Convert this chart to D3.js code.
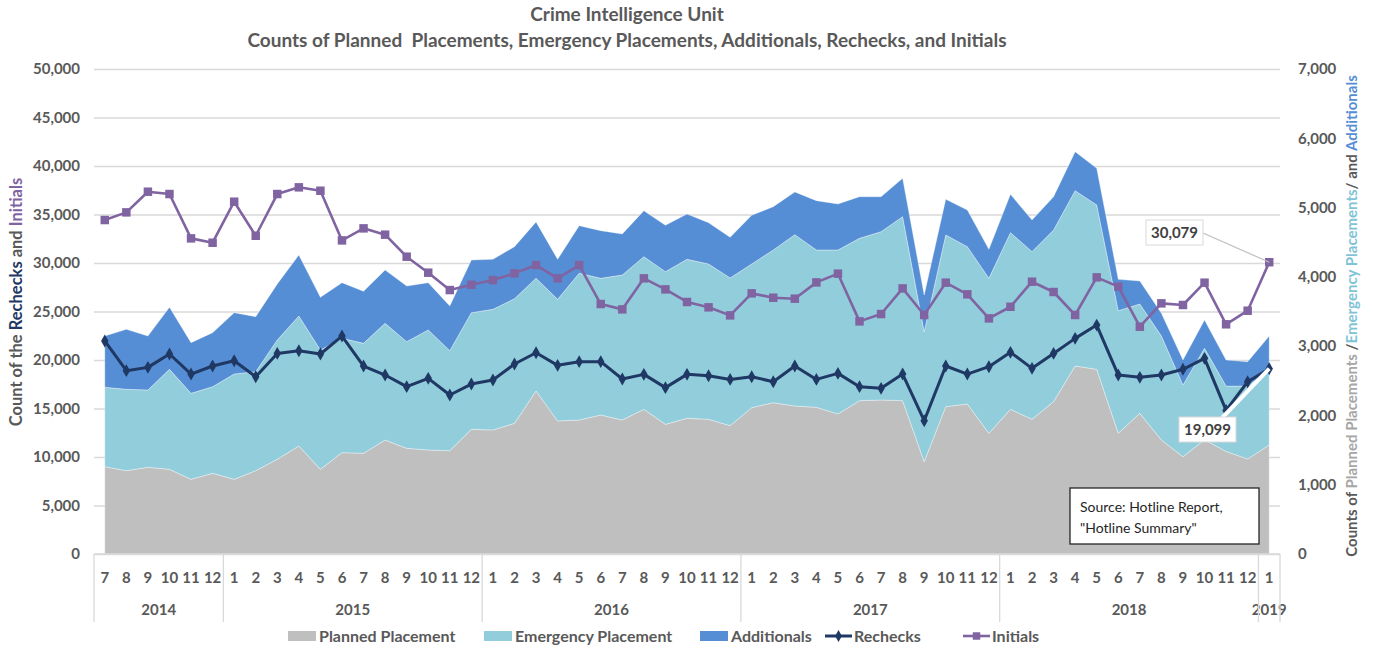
<!DOCTYPE html>
<html>
<head>
<meta charset="utf-8">
<script src="https://cdn.jsdelivr.net/npm/d3@7"></script>
<style>
body { margin: 0; background: #fff; }
text { font-family: Lato, "Open Sans", sans-serif; }
</style>
</head>
<body>
<div id="vis"></div>
<script>

// month labels (Jul 2014 - Jan 2019) and the year groups under them
var months = [7, 8, 9, 10, 11, 12,
  1, 2, 3, 4, 5, 6, 7, 8, 9, 10, 11, 12,
  1, 2, 3, 4, 5, 6, 7, 8, 9, 10, 11, 12,
  1, 2, 3, 4, 5, 6, 7, 8, 9, 10, 11, 12,
  1, 2, 3, 4, 5, 6, 7, 8, 9, 10, 11, 12,
  1];
var yearNames = ["2014", "2015", "2016", "2017", "2018", "2019"];
var yearCounts = [6, 12, 12, 12, 12, 1];

// stacked areas (right axis)
var planned = [1260, 1203, 1251, 1222, 1078, 1164, 1078, 1203, 1366, 1559,
  1222, 1463, 1453, 1645, 1525, 1501, 1491, 1799, 1790, 1886,
  2353, 1920, 1934, 2006, 1934, 2088, 1871, 1958, 1944, 1852,
  2112, 2184, 2136, 2117, 2021, 2213, 2223, 2213, 1333, 2127,
  2165, 1742, 2088, 1944, 2199, 2713, 2665, 1742, 2030, 1645,
  1404, 1650, 1480, 1371, 1573];
var emergency = [1146, 1174, 1116, 1443, 1241, 1251, 1520, 1429, 1723, 1876,
  1722, 1650, 1588, 1684, 1540, 1732, 1444, 1684, 1741, 1799,
  1626, 1756, 2117, 1973, 2093, 2203, 2204, 2295, 2242, 2132,
  2074, 2204, 2473, 2271, 2367, 2343, 2429, 2656, 1876, 2477,
  2271, 2237, 2550, 2420, 2477, 2531, 2372, 1770, 1578, 1501,
  1036, 1318, 944, 1053, 1082];
var additionals = [740, 866, 779, 895, 731, 780, 885, 793, 808, 880,
  760, 803, 750, 770, 803, 683, 644, 760, 722, 751,
  813, 577, 688, 688, 592, 664, 669, 654, 596, 586,
  702, 625, 616, 712, 664, 601, 505, 553, 529, 515,
  529, 418, 553, 457, 481, 563, 529, 452, 332, 328,
  360, 409, 376, 351, 491];

// lines (left axis)
var rechecks = [21960, 18900, 19240, 20620, 18550, 19380, 19930, 18280, 20680, 20960,
  20620, 22470, 19380, 18450, 17250, 18110, 16390, 17520, 17940, 19590,
  20750, 19450, 19830, 19830, 18040, 18520, 17150, 18520, 18380, 18000,
  18280, 17760, 19380, 18000, 18620, 17250, 17080, 18550, 13740, 19380,
  18550, 19310, 20790, 19140, 20680, 22230, 23600, 18450, 18210, 18450,
  19040, 20170, 14800, 17760, 19099];
var initials = [34430, 35220, 37350, 37110, 32540, 32090, 36320, 32810, 37110, 37800,
  37450, 32330, 33570, 32920, 30650, 29000, 27210, 27760, 28240, 28930,
  29790, 28420, 29790, 25770, 25220, 28420, 27280, 25980, 25430, 24600,
  26870, 26420, 26320, 28000, 28900, 23980, 24740, 27380, 24640, 27970,
  26770, 24290, 25490, 28070, 27010, 24640, 28520, 27560, 23430, 25840,
  25670, 27970, 23680, 25080, 30079];

var leftTicks = [0, 5000, 10000, 15000, 20000, 25000, 30000, 35000, 40000, 45000, 50000];
var rightTicks = [0, 1000, 2000, 3000, 4000, 5000, 6000, 7000];

var cPlanned = "#BFBFBF", cEmerg = "#92CDDC", cAdd = "#558ED5",
    cRecheck = "#1F3864", cInit = "#8064A2", cText = "#595959";

// set the dimensions and margins of the graph
var margin = {top: 69, right: 93, bottom: 94, left: 94},
    width = 1373 - margin.left - margin.right,
    height = 648 - margin.top - margin.bottom;

var n = months.length;

// set the ranges
var x = d3.scaleBand().domain(d3.range(n)).range([0, width]);
var y0 = d3.scaleLinear().domain([0, 50000]).range([height, 0]);
var y1 = d3.scaleLinear().domain([0, 7000]).range([height, 0]);
function cx(i) { return x(i) + x.bandwidth() / 2; }

var root = d3.select("#vis").append("svg")
    .attr("width", 1373)
    .attr("height", 648);
root.append("rect").attr("width", 1373).attr("height", 648).attr("fill", "#fff");

var svg = root.append("g")
    .attr("transform", "translate(" + margin.left + "," + margin.top + ")");

// gridlines
var grid = svg.append("g")
    .call(d3.axisLeft(y0).tickValues(leftTicks).tickSize(-width).tickFormat(""));
grid.select(".domain").remove();
grid.selectAll("line").attr("stroke", "#D9D9D9").attr("stroke-width", 1.3);

// stacked areas
var table = planned.map(function(d, i) {
  return {planned: d, emergency: emergency[i], additionals: additionals[i]};
});
var stack = d3.stack().keys(["planned", "emergency", "additionals"]);
var layers = stack(table);
var colors = [cPlanned, cEmerg, cAdd];

var area = d3.area()
    .x(function(d, i) { return cx(i); })
    .y0(function(d) { return y1(d[0]); })
    .y1(function(d) { return y1(d[1]); });

svg.selectAll(".layer")
    .data(layers)
  .enter().append("path")
    .attr("class", "layer")
    .attr("fill", function(d, i) { return colors[i]; })
    .attr("stroke", "#fff")
    .attr("stroke-opacity", 0.35)
    .attr("stroke-width", 1)
    .attr("d", area);

// the two lines
var valueline = d3.line()
    .x(function(d, i) { return cx(i); })
    .y(function(d) { return y0(d); });

svg.append("path")
    .datum(rechecks)
    .attr("fill", "none")
    .attr("stroke", cRecheck)
    .attr("stroke-width", 3)
    .attr("stroke-linejoin", "round")
    .attr("d", valueline);

svg.selectAll(".rmark")
    .data(rechecks)
  .enter().append("path")
    .attr("class", "rmark")
    .attr("fill", cRecheck)
    .attr("transform", function(d, i) { return "translate(" + cx(i) + "," + y0(d) + ")"; })
    .attr("d", d3.symbol().type(d3.symbolDiamond).size(48));

svg.append("path")
    .datum(initials)
    .attr("fill", "none")
    .attr("stroke", cInit)
    .attr("stroke-width", 2.6)
    .attr("stroke-linejoin", "round")
    .attr("d", valueline);

svg.selectAll(".imark")
    .data(initials)
  .enter().append("path")
    .attr("class", "imark")
    .attr("fill", cInit)
    .attr("transform", function(d, i) { return "translate(" + cx(i) + "," + y0(d) + ")"; })
    .attr("d", d3.symbol().type(d3.symbolSquare).size(72));

// left axis
var yl = svg.append("g")
    .call(d3.axisLeft(y0).tickValues(leftTicks).tickSize(0).tickPadding(14).tickFormat(d3.format(",")));
yl.select(".domain").remove();
yl.selectAll("text").attr("fill", cText).style("font-size", "15px").style("font-weight", "bold")
    .style("font-family", "Lato, sans-serif");

// right axis
var yr = svg.append("g")
    .attr("transform", "translate(" + width + ",0)")
    .call(d3.axisRight(y1).tickValues(rightTicks).tickSize(0).tickPadding(18).tickFormat(d3.format(",")));
yr.select(".domain").remove();
yr.selectAll("text").attr("fill", cText).style("font-size", "15px").style("font-weight", "bold")
    .style("font-family", "Lato, sans-serif");

// category axis: months, years and separators
svg.append("line")
    .attr("x1", 0).attr("x2", width)
    .attr("y1", height).attr("y2", height)
    .attr("stroke", "#D9D9D9").attr("stroke-width", 1.3);

svg.selectAll(".month")
    .data(months)
  .enter().append("text")
    .attr("class", "month")
    .attr("x", function(d, i) { return cx(i); })
    .attr("y", height + 29)
    .attr("text-anchor", "middle")
    .attr("fill", cText)
    .style("font-size", "15px")
    .style("font-weight", "bold")
    .text(function(d) { return d; });

var start = 0, bounds = [0];
yearNames.forEach(function(yr, k) {
  var a = x(start), b = x(start + yearCounts[k] - 1) + x.bandwidth();
  svg.append("text")
      .attr("x", (a + b) / 2)
      .attr("y", height + 61)
      .attr("text-anchor", "middle")
      .attr("fill", cText)
      .style("font-size", "15px")
      .style("font-weight", "bold")
      .text(yr);
  start += yearCounts[k];
  bounds.push(b);
});

svg.selectAll(".sep")
    .data(bounds)
  .enter().append("line")
    .attr("class", "sep")
    .attr("x1", function(d) { return d; })
    .attr("x2", function(d) { return d; })
    .attr("y1", height)
    .attr("y2", height + 68)
    .attr("stroke", "#D9D9D9")
    .attr("stroke-width", 1.3);

// data labels for the last points
var last = n - 1;
svg.append("line")
    .attr("x1", 1203 - margin.left).attr("y1", 233 - margin.top)
    .attr("x2", cx(last)).attr("y2", y0(initials[last]))
    .attr("stroke", "#BFBFBF").attr("stroke-width", 1.2);
svg.append("line")
    .attr("x1", 1222 - margin.left).attr("y1", 418 - margin.top)
    .attr("x2", cx(last)).attr("y2", y0(rechecks[last]))
    .attr("stroke", "#fff").attr("stroke-width", 4);

function valueBox(v, bx, by) {
  svg.append("rect")
      .attr("x", bx - margin.left).attr("y", by - margin.top)
      .attr("width", 57).attr("height", 25)
      .attr("fill", "#fff").attr("stroke", "#D9D9D9");
  svg.append("text")
      .attr("x", bx - margin.left + 28.5).attr("y", by - margin.top + 18)
      .attr("text-anchor", "middle")
      .attr("fill", "#404040")
      .style("font-size", "15px").style("font-weight", "bold")
      .text(d3.format(",")(v));
}
valueBox(initials[last], 1146, 220);
valueBox(rechecks[last], 1179, 417);

// source note
svg.append("rect")
    .attr("x", 1070 - margin.left).attr("y", 488 - margin.top)
    .attr("width", 189).attr("height", 56)
    .attr("fill", "#fff").attr("stroke", "#262626").attr("stroke-width", 1.3);
svg.append("text")
    .attr("x", 1080 - margin.left).attr("y", 512 - margin.top)
    .attr("fill", "#262626").style("font-size", "14px")
    .text("Source: Hotline Report,");
svg.append("text")
    .attr("x", 1080 - margin.left).attr("y", 533 - margin.top)
    .attr("fill", "#262626").style("font-size", "14px")
    .text("\"Hotline Summary\"");

// titles
root.append("text")
    .attr("x", 627).attr("y", 21)
    .attr("text-anchor", "middle").attr("fill", cText)
    .style("font-size", "19px").style("font-weight", "bold")
    .text("Crime Intelligence Unit");
root.append("text")
    .attr("x", 627).attr("y", 47)
    .attr("text-anchor", "middle").attr("fill", cText)
    .style("font-size", "19px").style("font-weight", "bold")
    .style("white-space", "pre")
    .text("Counts of Planned  Placements, Emergency Placements, Additionals, Rechecks, and Initials");

// axis titles with coloured words
var lt = root.append("text")
    .attr("transform", "translate(22,302)rotate(-90)")
    .attr("text-anchor", "middle")
    .style("font-size", "16.5px").style("font-weight", "bold");
lt.append("tspan").attr("fill", cText).text("Count of the ");
lt.append("tspan").attr("fill", cRecheck).text("Rechecks");
lt.append("tspan").attr("fill", cText).text(" and ");
lt.append("tspan").attr("fill", cInit).text("Initials");

var rt = root.append("text")
    .attr("transform", "translate(1357,316)rotate(-90)")
    .attr("text-anchor", "middle")
    .style("font-size", "15px").style("font-weight", "bold");
rt.append("tspan").attr("fill", cText).text("Counts of ");
rt.append("tspan").attr("fill", "#A6A6A6").text("Planned Placements");
rt.append("tspan").attr("fill", cText).text(" /");
rt.append("tspan").attr("fill", "#7FC4D6").text("Emergency Placements");
rt.append("tspan").attr("fill", cText).text("/ and ");
rt.append("tspan").attr("fill", cAdd).text("Additionals");

// legend
var legend = root.append("g").attr("transform", "translate(0,636)");
var swatches = [
  {name: "Planned Placement", color: cPlanned, x: 288},
  {name: "Emergency Placement", color: cEmerg, x: 484},
  {name: "Additionals", color: cAdd, x: 700}
];
swatches.forEach(function(s) {
  legend.append("rect").attr("x", s.x).attr("y", -5).attr("width", 28).attr("height", 10).attr("fill", s.color);
  legend.append("text").attr("x", s.x + 31).attr("y", 5.5).attr("fill", cText)
      .style("font-size", "16px").style("font-weight", "bold").text(s.name);
});
var lineKeys = [
  {name: "Rechecks", color: cRecheck, x: 825, sym: d3.symbolDiamond, size: 40, w: 3},
  {name: "Initials", color: cInit, x: 963, sym: d3.symbolSquare, size: 56, w: 2.6}
];
lineKeys.forEach(function(s) {
  legend.append("line").attr("x1", s.x).attr("x2", s.x + 27).attr("y1", 0).attr("y2", 0)
      .attr("stroke", s.color).attr("stroke-width", s.w);
  legend.append("path").attr("transform", "translate(" + (s.x + 13.5) + ",0)")
      .attr("fill", s.color).attr("d", d3.symbol().type(s.sym).size(s.size));
  legend.append("text").attr("x", s.x + 29).attr("y", 5.5).attr("fill", cText)
      .style("font-size", "16px").style("font-weight", "bold").text(s.name);
});

</script>
</body>
</html>
